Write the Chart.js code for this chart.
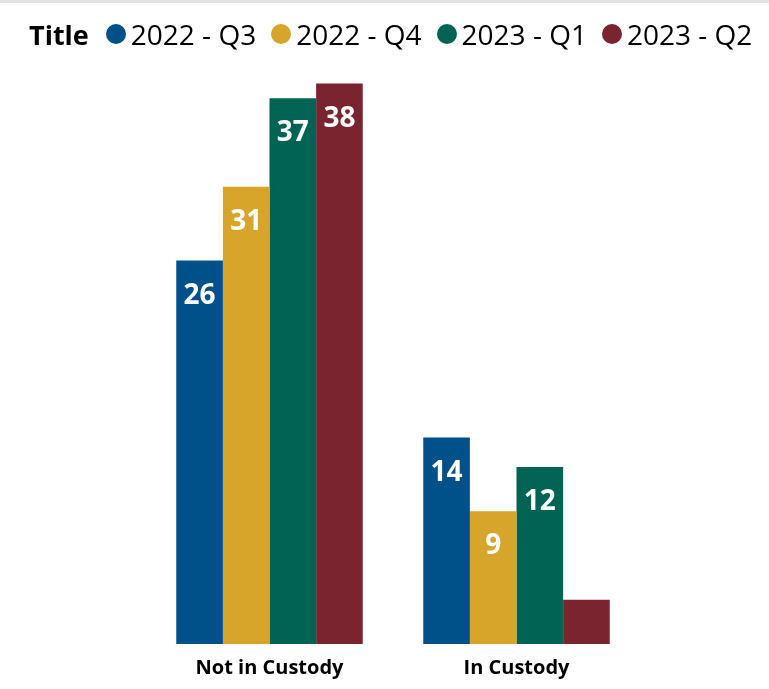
<!DOCTYPE html>
<html>
<head>
<meta charset="utf-8">
<script src="https://cdn.jsdelivr.net/npm/chart.js@4"></script>
<style>
  html, body { margin: 0; padding: 0; background: #fff; }
  body { width: 769px; height: 689px; position: relative; overflow: hidden; font-family: "Open Sans", sans-serif; }
  #topband { position: absolute; left: 0; top: 0; width: 769px; height: 3px; background: #e3e3e3; }
  #wrap { position: absolute; left: 0; top: 0; width: 769px; height: 689px; }
  #legend { position: absolute; left: 29px; top: 15px; display: flex; align-items: center; white-space: nowrap; font-size: 28px; color: #000; }
  #legend .ttl { font-weight: bold; font-size: 27px; margin-right: 17px; }
  #legend .item { display: flex; align-items: center; margin-right: 15px; }
  #legend .dot { width: 20px; height: 20px; border-radius: 50%; margin-right: 5px; }
</style>
</head>
<body>
<div id="topband"></div>
<div id="wrap"><canvas id="c" width="769" height="689"></canvas></div>
<div id="legend"></div>
<script>
const legendTitle = "Title";
const categories = ["Not in Custody", "In Custody"];
const seriesNames = ["2022 - Q3", "2022 - Q4", "2023 - Q1", "2023 - Q2"];
const q3_2022 = [26, 14];
const q4_2022 = [31, 9];
const q1_2023 = [37, 12];
const q2_2023 = [38, 3];
const seriesColors = ["#005089", "#D8A52B", "#006354", "#7A2430"];
const seriesValues = [q3_2022, q4_2022, q1_2023, q2_2023];

// HTML legend
const lg = document.getElementById('legend');
const t = document.createElement('span'); t.className = 'ttl'; t.textContent = legendTitle; lg.appendChild(t);
seriesNames.forEach((n, i) => {
  const it = document.createElement('span'); it.className = 'item';
  const d = document.createElement('span'); d.className = 'dot'; d.style.background = seriesColors[i];
  const s = document.createElement('span'); s.textContent = n;
  it.appendChild(d); it.appendChild(s); lg.appendChild(it);
});

const labelPlugin = {
  id: 'barLabels',
  afterDatasetsDraw(chart) {
    const ctx = chart.ctx;
    ctx.save();
    ctx.fillStyle = '#fff';
    ctx.font = 'bold 28px "Open Sans"';
    ctx.textAlign = 'center';
    ctx.textBaseline = 'alphabetic';
    chart.data.datasets.forEach((ds, di) => {
      chart.getDatasetMeta(di).data.forEach((bar, i) => {
        const h = bar.base - bar.y;
        if (h < 60) return;
        ctx.fillText(String(ds.data[i]), bar.x, bar.y + 43);
      });
    });
    ctx.restore();
  }
};

new Chart(document.getElementById('c'), {
  type: 'bar',
  data: {
    labels: categories,
    datasets: seriesNames.map((n, i) => ({
      label: n,
      data: seriesValues[i],
      backgroundColor: seriesColors[i],
      borderWidth: 0,
      barPercentage: 1.0,
      categoryPercentage: 0.755
    }))
  },
  options: {
    responsive: false,
    animation: false,
    devicePixelRatio: 1,
    layout: { padding: { left: 146, right: 129, top: 54, bottom: 0 } },
    plugins: { legend: { display: false }, tooltip: { enabled: false } },
    scales: {
      x: {
        grid: { display: false, drawTicks: false },
        border: { display: false },
        ticks: { color: '#000', font: { family: 'Open Sans', weight: 'bold', size: 20 }, padding: 12 },
        afterFit(scale) { scale.height = 45; }
      },
      y: { display: false, min: 0, max: 40 }
    }
  },
  plugins: [labelPlugin]
});
</script>
</body>
</html>
